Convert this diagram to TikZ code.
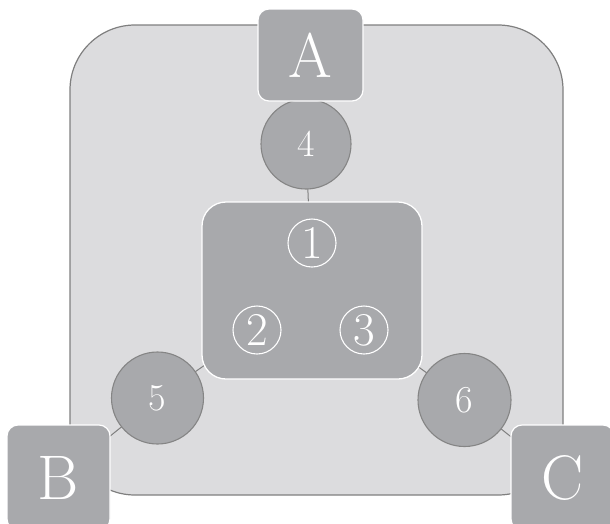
\documentclass[tikz,border=0pt]{standalone}
\usetikzlibrary{backgrounds}
\definecolor{outerfill}{HTML}{DCDCDE}
\definecolor{outerline}{HTML}{7F7F7F}
\definecolor{boxgray}{HTML}{A8A9AC}
\definecolor{circgray}{HTML}{858585}
\definecolor{linegray}{HTML}{7F7F7F}
\begin{document}
\begin{tikzpicture}[x=1pt,y=-1pt,
  boxnode/.style={draw=white, line width=1.2pt, fill=boxgray, rounded corners=11pt,
    inner sep=0pt, text=white, font=\fontsize{63}{63}\selectfont},
  numcirc/.style={circle, draw=circgray, line width=1.1pt, fill=boxgray, inner sep=0pt,
    text=white, font=\fontsize{38}{38}\selectfont},
  link/.style={draw=linegray, line width=1pt},
  cnum/.style={circle, draw=white, line width=1.1pt, minimum size=48pt, inner sep=0pt,
    text=white, font=\fontsize{47}{47}\selectfont},
  panel/.style={draw=white, line width=1.3pt, fill=boxgray, rounded corners=24pt},
  frame/.style={draw=outerline, fill=outerfill, line width=1.2pt, rounded corners=65pt}]
\useasboundingbox (0,0) rectangle (610,523);
% inner panel
\node[panel, minimum width=220pt, minimum height=177pt] (inner) at (312,290.5) {};
% circles
\node[numcirc, minimum size=90pt] (c4) at (306,144) {4};
\node[numcirc, minimum size=92pt] (c5) at (157.5,398) {5};
\node[numcirc, minimum size=93pt] (c6) at (464.5,400) {6};
% boxes
\node[boxnode, minimum width=105pt, minimum height=92pt] (A) at (310.5,55) {A};
\node[boxnode, minimum width=103pt, minimum height=105pt] (B) at (58.5,477.5) {B};
\node[boxnode, minimum width=103pt, minimum height=105pt] (C) at (562.5,477.5) {C};
% circled numbers
\node[cnum] (n1) at (312,243) {1};
\node[cnum] (n2) at (257,330) {2};
\node[cnum] (n3) at (364,330) {3};
\begin{pgfonlayer}{background}
\node[frame, minimum width=493pt, minimum height=470pt] (outer) at (316.5,260) {};
\draw[link] (c4.center) -- (inner.center);
\draw[link] (c5.center) -- (inner.center);
\draw[link] (c6.center) -- (inner.center);
\draw[link] (c5.center) -- (B.center);
\draw[link] (c6.center) -- (C.center);
\end{pgfonlayer}
\end{tikzpicture}
\end{document}
